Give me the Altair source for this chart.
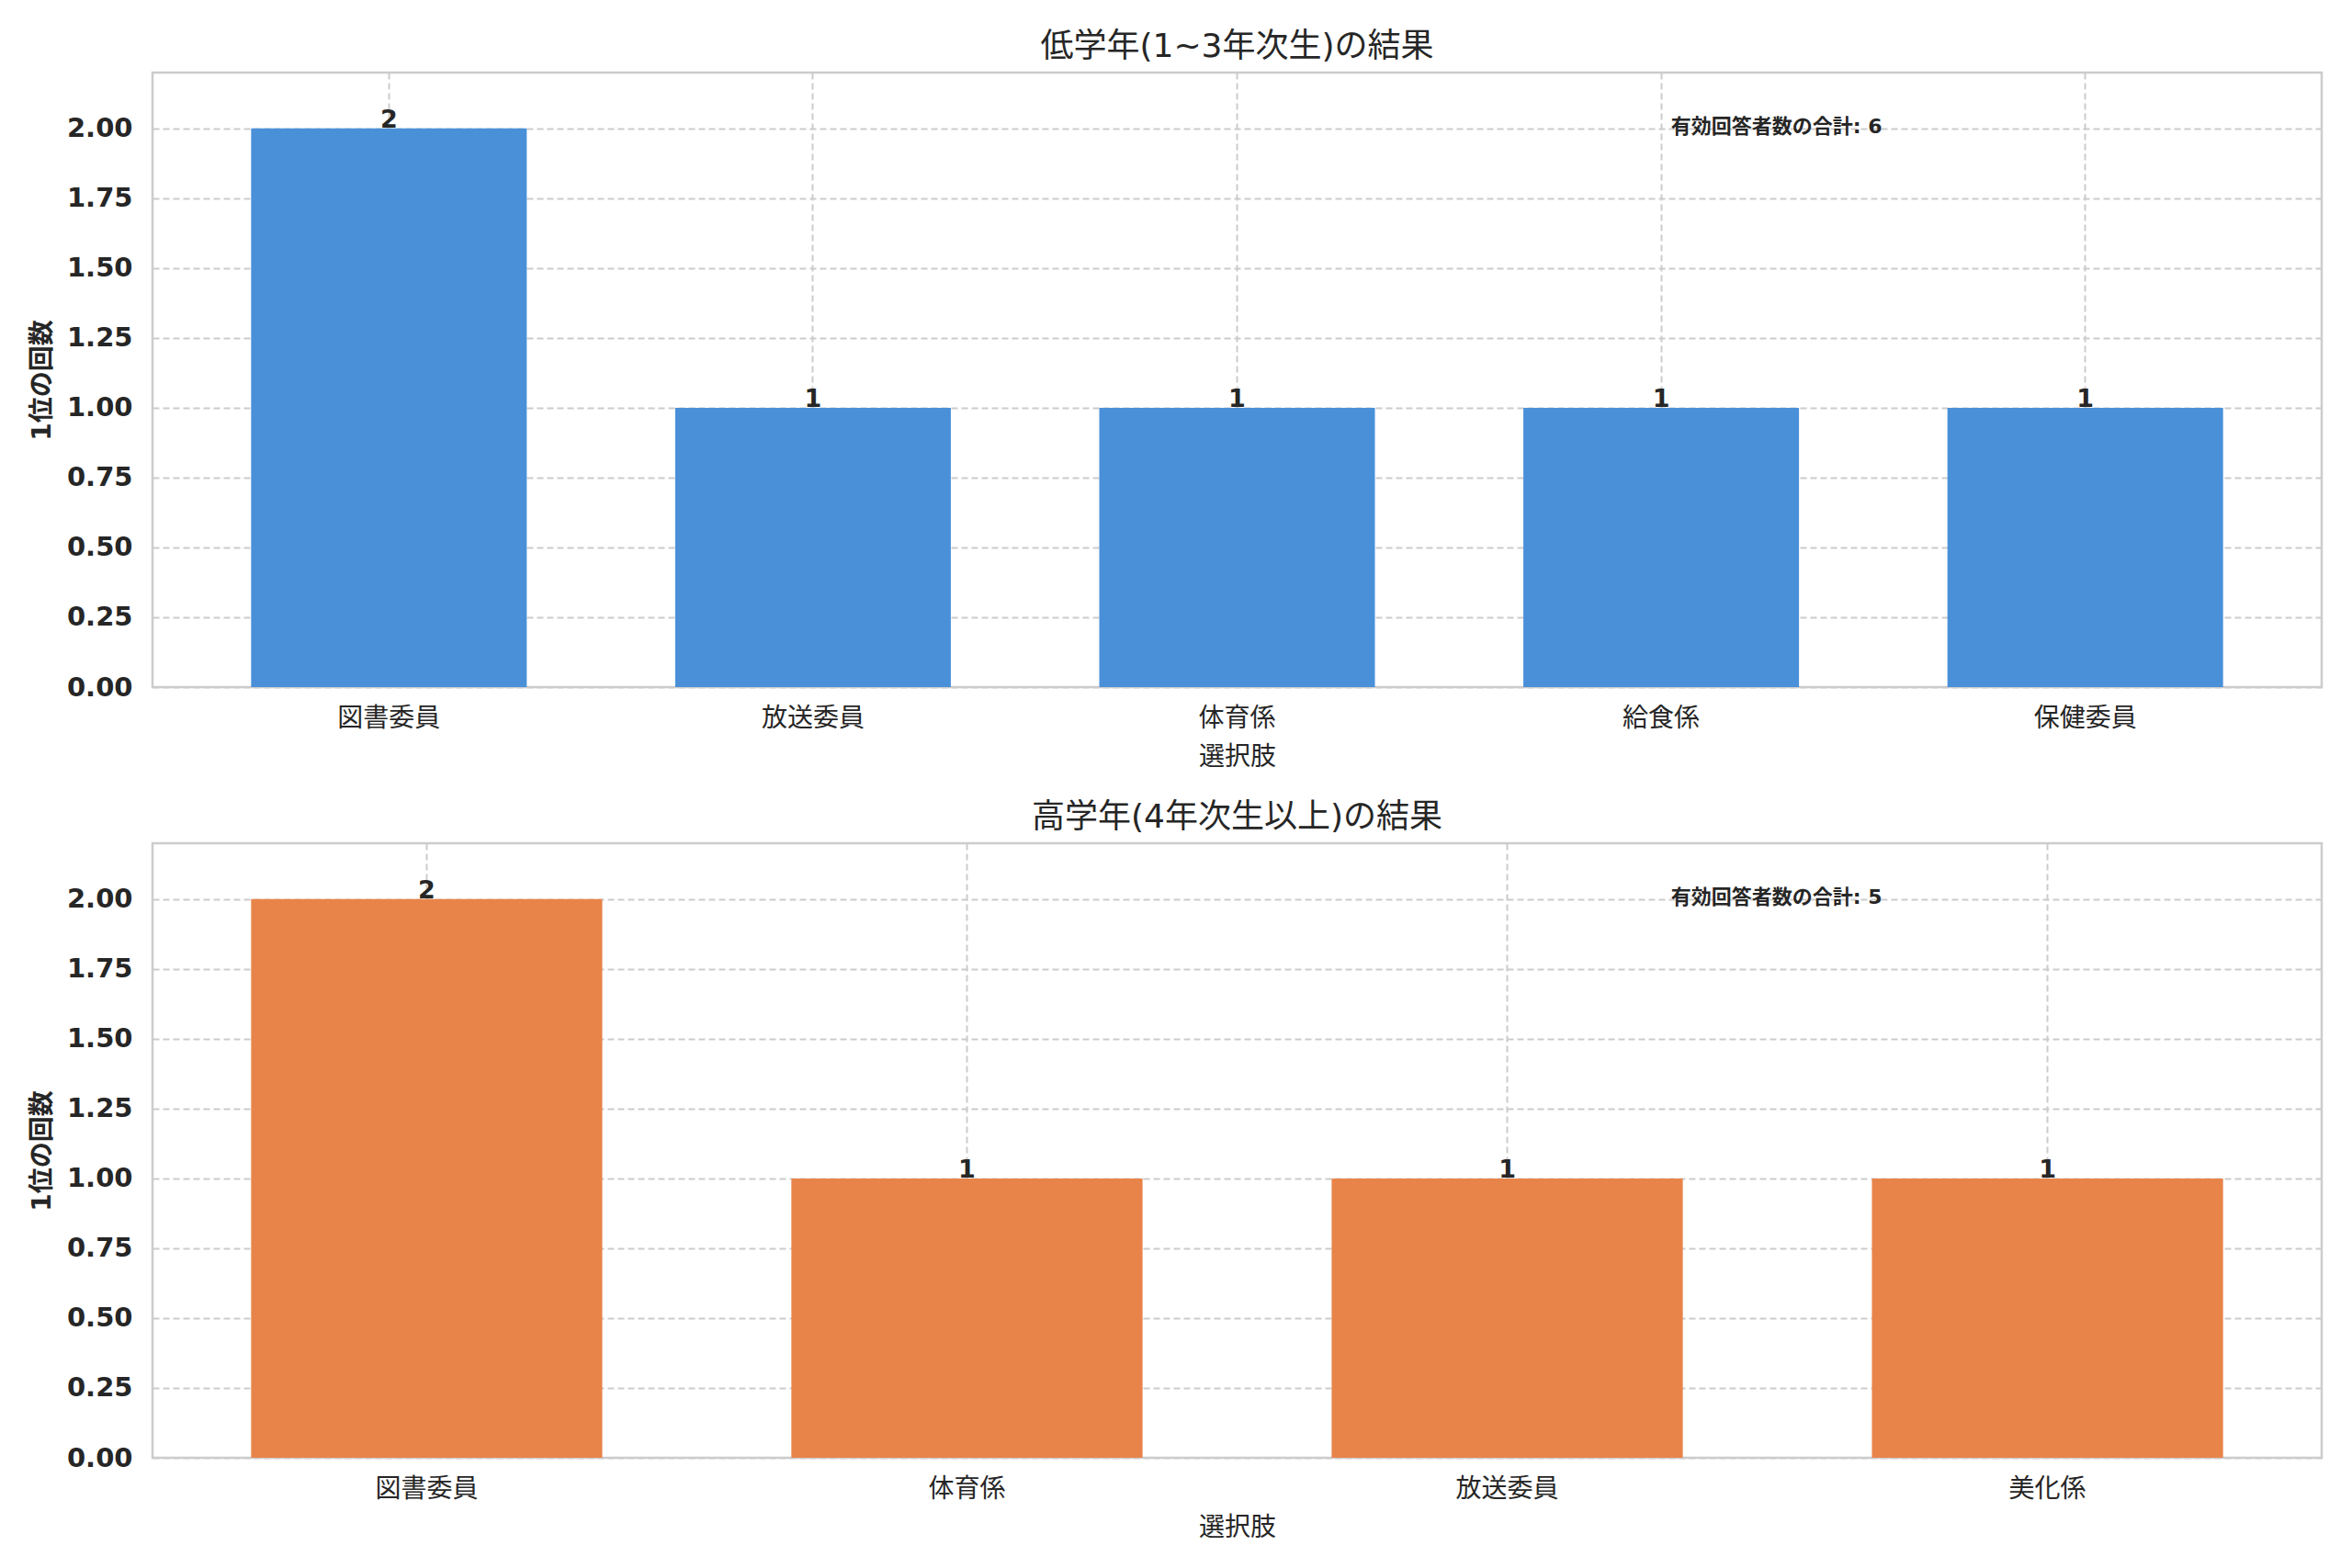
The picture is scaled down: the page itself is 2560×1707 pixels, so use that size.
import altair as alt
import pandas as pd

# ---- data ----
top_title = "低学年(1~3年次生)の結果"
bottom_title = "高学年(4年次生以上)の結果"
x_title = "選択肢"
y_title = "1位の回数"
note_label = "有効回答者数の合計"

top_categories = ["図書委員", "放送委員", "体育係", "給食係", "保健委員"]
top_counts = [2, 1, 1, 1, 1]

bottom_categories = ["図書委員", "体育係", "放送委員", "美化係"]
bottom_counts = [2, 1, 1, 1]

y_ticks = [0.0, 0.25, 0.5, 0.75, 1.0, 1.25, 1.5, 1.75, 2.0]

FONT = "DejaVu Sans, Noto Sans CJK JP, sans-serif"
TEXT = "#262626"
GRID = "#cccccc"
W, H = 2361, 669
BAR_W = 0.65


def panel(cats, counts, color, title):
    n = len(cats)
    df = pd.DataFrame({"cat": cats, "count": counts})
    outer = 0.05 * (n - 1 + BAR_W)
    x = alt.X(
        "cat:N",
        sort=cats,
        title=x_title,
        scale=alt.Scale(paddingInner=1 - BAR_W, paddingOuter=outer),
        axis=alt.Axis(
            labelAngle=0,
            labelFontSize=28,
            labelColor=TEXT,
            labelFont=FONT,
            labelPadding=20,
            ticks=False,
            domain=False,
            grid=True,
            gridColor=GRID,
            gridDash=[7, 4],
            gridWidth=2,
            titleFontSize=28,
            titleFont=FONT,
            titleColor=TEXT,
            titleFontWeight="normal",
            titlePadding=14,
        ),
    )
    y = alt.Y(
        "count:Q",
        title=y_title,
        scale=alt.Scale(domain=[0, 2.2], nice=False, zero=True),
        axis=alt.Axis(
            values=y_ticks,
            format=".2f",
            labelFontSize=29,
            labelFontWeight="bold",
            labelColor=TEXT,
            labelFont=FONT,
            labelPadding=22,
            ticks=False,
            domain=False,
            grid=True,
            gridColor=GRID,
            gridDash=[7, 4],
            gridWidth=2,
            titleFontSize=28,
            titleFont=FONT,
            titleColor=TEXT,
            titleFontWeight="bold",
            titlePadding=12,
        ),
    )
    base = alt.Chart(df)
    bars = base.mark_bar(color=color).encode(x=x, y=y)
    labels = base.mark_text(
        baseline="alphabetic", align="center", fontSize=27, fontWeight="bold",
        color=TEXT, font=FONT, dy=-1,
    ).encode(x=alt.X("cat:N", sort=cats), y="count:Q", text=alt.Text("count:Q", format="d"))
    note_df = pd.DataFrame({"t": [f"{note_label}: {sum(counts)}"]})
    note = alt.Chart(note_df).mark_text(
        align="left", baseline="alphabetic", fontSize=22, fontWeight="bold",
        color=TEXT, font=FONT,
    ).encode(x=alt.value(W * 0.70), y=alt.value(H * 0.098), text="t:N")
    return alt.layer(bars, labels, note).properties(
        width=W, height=H,
        title=alt.TitleParams(title, fontSize=36, font=FONT, color=TEXT,
                              fontWeight="normal", offset=9),
    )


top = panel(top_categories, top_counts, "#4A90D9", top_title)
bottom = panel(bottom_categories, bottom_counts, "#E8844A", bottom_title)

chart = alt.vconcat(top, bottom, spacing=30).configure_view(
    stroke=GRID, strokeWidth=2.5
).properties(
    padding={"left": 23, "right": 20, "top": 23, "bottom": 5}, background="white"
)

chart.save("out.html", embed_options={"renderer": "svg", "actions": False})
